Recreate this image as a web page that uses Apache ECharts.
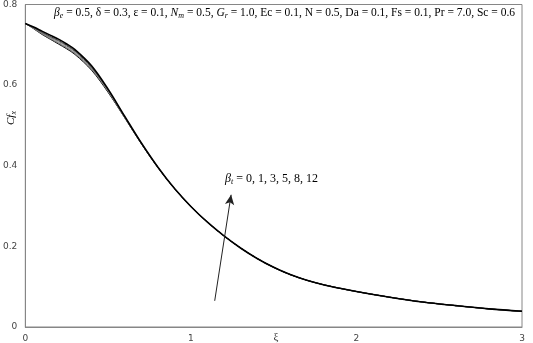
<!DOCTYPE html>
<html><head><meta charset="utf-8">
<script src="https://cdn.jsdelivr.net/npm/echarts@6/dist/echarts.min.js"></script>
<style>html,body{margin:0;padding:0;background:#fff}#c{width:533px;height:343px}</style>
</head><body><div id="c"></div>
<script>
var xi = [0, 0.05, 0.1, 0.15, 0.2, 0.25, 0.3, 0.4, 0.5, 0.6, 0.7, 0.8, 0.9, 1.0, 1.1, 1.2, 1.3, 1.4, 1.5, 1.6, 1.7, 1.8, 1.9, 2.0, 2.2, 2.4, 2.6, 2.8, 3.0];
var cf_bt0  = [0.753, 0.740, 0.726, 0.714, 0.702, 0.690, 0.676, 0.637, 0.582, 0.519, 0.455, 0.396, 0.344, 0.299, 0.260, 0.226, 0.196, 0.170, 0.148, 0.130, 0.116, 0.105, 0.096, 0.088, 0.074, 0.062, 0.053, 0.045, 0.039];
var cf_bt1  = [0.753, 0.741, 0.727, 0.715, 0.704, 0.692, 0.678, 0.639, 0.584, 0.520, 0.455, 0.396, 0.344, 0.299, 0.260, 0.226, 0.196, 0.170, 0.148, 0.130, 0.116, 0.105, 0.096, 0.088, 0.074, 0.062, 0.053, 0.045, 0.039];
var cf_bt3  = [0.753, 0.741, 0.729, 0.717, 0.706, 0.694, 0.680, 0.641, 0.585, 0.520, 0.456, 0.396, 0.344, 0.299, 0.260, 0.226, 0.196, 0.170, 0.148, 0.130, 0.116, 0.105, 0.096, 0.088, 0.074, 0.062, 0.053, 0.045, 0.039];
var cf_bt5  = [0.753, 0.742, 0.730, 0.719, 0.709, 0.697, 0.683, 0.643, 0.587, 0.521, 0.456, 0.397, 0.344, 0.299, 0.260, 0.226, 0.196, 0.170, 0.148, 0.130, 0.116, 0.105, 0.096, 0.088, 0.074, 0.062, 0.053, 0.045, 0.039];
var cf_bt8  = [0.753, 0.743, 0.732, 0.721, 0.711, 0.699, 0.685, 0.645, 0.588, 0.522, 0.457, 0.397, 0.344, 0.299, 0.260, 0.226, 0.196, 0.170, 0.148, 0.130, 0.116, 0.105, 0.096, 0.088, 0.074, 0.062, 0.053, 0.045, 0.039];
var cf_bt12 = [0.753, 0.744, 0.734, 0.724, 0.714, 0.702, 0.688, 0.648, 0.590, 0.523, 0.457, 0.397, 0.344, 0.299, 0.260, 0.226, 0.196, 0.170, 0.148, 0.130, 0.116, 0.105, 0.096, 0.088, 0.074, 0.062, 0.053, 0.045, 0.039];
var xTicks = [0, 1, 2, 3];
var yTicks = [0, 0.2, 0.4, 0.6, 0.8];
var arrowTail = [1.144, 0.065];
var arrowTip = [1.243, 0.328];

function pairs(ys){ return xi.map(function(x,i){ return [x, ys[i]]; }); }
var seriesDefs = [
  {name:'βt=0', data:cf_bt0, color:'#000', w:1},
  {name:'βt=1', data:cf_bt1, color:'#666', w:1},
  {name:'βt=3', data:cf_bt3, color:'#888', w:1},
  {name:'βt=5', data:cf_bt5, color:'#666', w:1},
  {name:'βt=8', data:cf_bt8, color:'#444', w:1},
  {name:'βt=12', data:cf_bt12, color:'#000', w:1.6}
];
var series = seriesDefs.map(function(s){
  return {type:'line', name:s.name, data:pairs(s.data), smooth:0.35, showSymbol:false, silent:true,
    lineStyle:{color:s.color, width:s.w}};
});
series.push({type:'line', data:[], silent:true,
  markLine:{silent:true, symbol:['none','arrow'], symbolSize:[7,10],
    lineStyle:{color:'#222', width:1, type:'solid'}, label:{show:false},
    data:[[{coord:arrowTail},{coord:arrowTip}]]}});

var chart = echarts.init(document.getElementById('c'), null, {renderer:'canvas'});
var serif = 'Liberation Serif, Times New Roman, serif';
chart.setOption({
  animation:false,
  backgroundColor:'#fff',
  grid:{left:20, right:11, top:4, bottom:15, show:true, borderColor:'#868686', borderWidth:1},
  xAxis:{type:'value', min:0, max:3, interval:1,
    axisLine:{show:true, lineStyle:{color:'#868686'}}, axisTick:{show:false}, splitLine:{show:false},
    axisLabel:{color:'#444', fontSize:9, fontFamily:'DejaVu Sans, sans-serif', margin:7,
      formatter:function(v){ return xTicks.indexOf(v)>=0 ? String(v) : ''; }}},
  yAxis:{type:'value', min:0, max:0.8, interval:0.2,
    axisLine:{show:true, lineStyle:{color:'#868686'}}, axisTick:{show:false}, splitLine:{show:false},
    axisLabel:{color:'#444', fontSize:9, fontFamily:'DejaVu Sans, sans-serif', margin:8,
      formatter:function(v){ var r = Math.round(v*10)/10; return String(r); }}},
  series:series,
  graphic:[
    {type:'text', left:54, top:7, style:{
      text:'{i|β}{s|e} = 0.5, δ = 0.3, ε = 0.1, {i|N}{s|m} = 0.5, {i|G}{s|r} = 1.0, Ec = 0.1, N = 0.5, Da = 0.1, Fs = 0.1, Pr = 7.0, Sc = 0.6',
      font:'11.5px '+serif, fill:'#000',
      rich:{i:{fontStyle:'italic', fontSize:11.5, fontFamily:serif, fill:'#000'},
            s:{fontStyle:'italic', fontSize:8, fontFamily:serif, padding:[6,0,0,0]}}}},
    {type:'text', left:225, top:173, style:{
      text:'{i|β}{s|t} = 0, 1, 3, 5, 8, 12',
      font:'12px '+serif, fill:'#000',
      rich:{i:{fontStyle:'italic', fontSize:12, fontFamily:serif},
            s:{fontStyle:'italic', fontSize:8, fontFamily:serif, padding:[6,0,0,0]}}}},
    {type:'text', x:276, y:337, style:{text:'ξ', font:'11px '+serif, fill:'#333', align:'center', verticalAlign:'middle'}},
    {type:'text', x:11, y:118, rotation:Math.PI/2, style:{
      text:'{i|Cf}{s|x}', align:'center', verticalAlign:'middle', font:'italic 11px '+serif, fill:'#000',
      rich:{i:{fontStyle:'italic', fontSize:11, fontFamily:serif}, s:{fontStyle:'italic', fontSize:8, fontFamily:serif, padding:[5,0,0,0]}}}}
  ]
});
</script></body></html>
